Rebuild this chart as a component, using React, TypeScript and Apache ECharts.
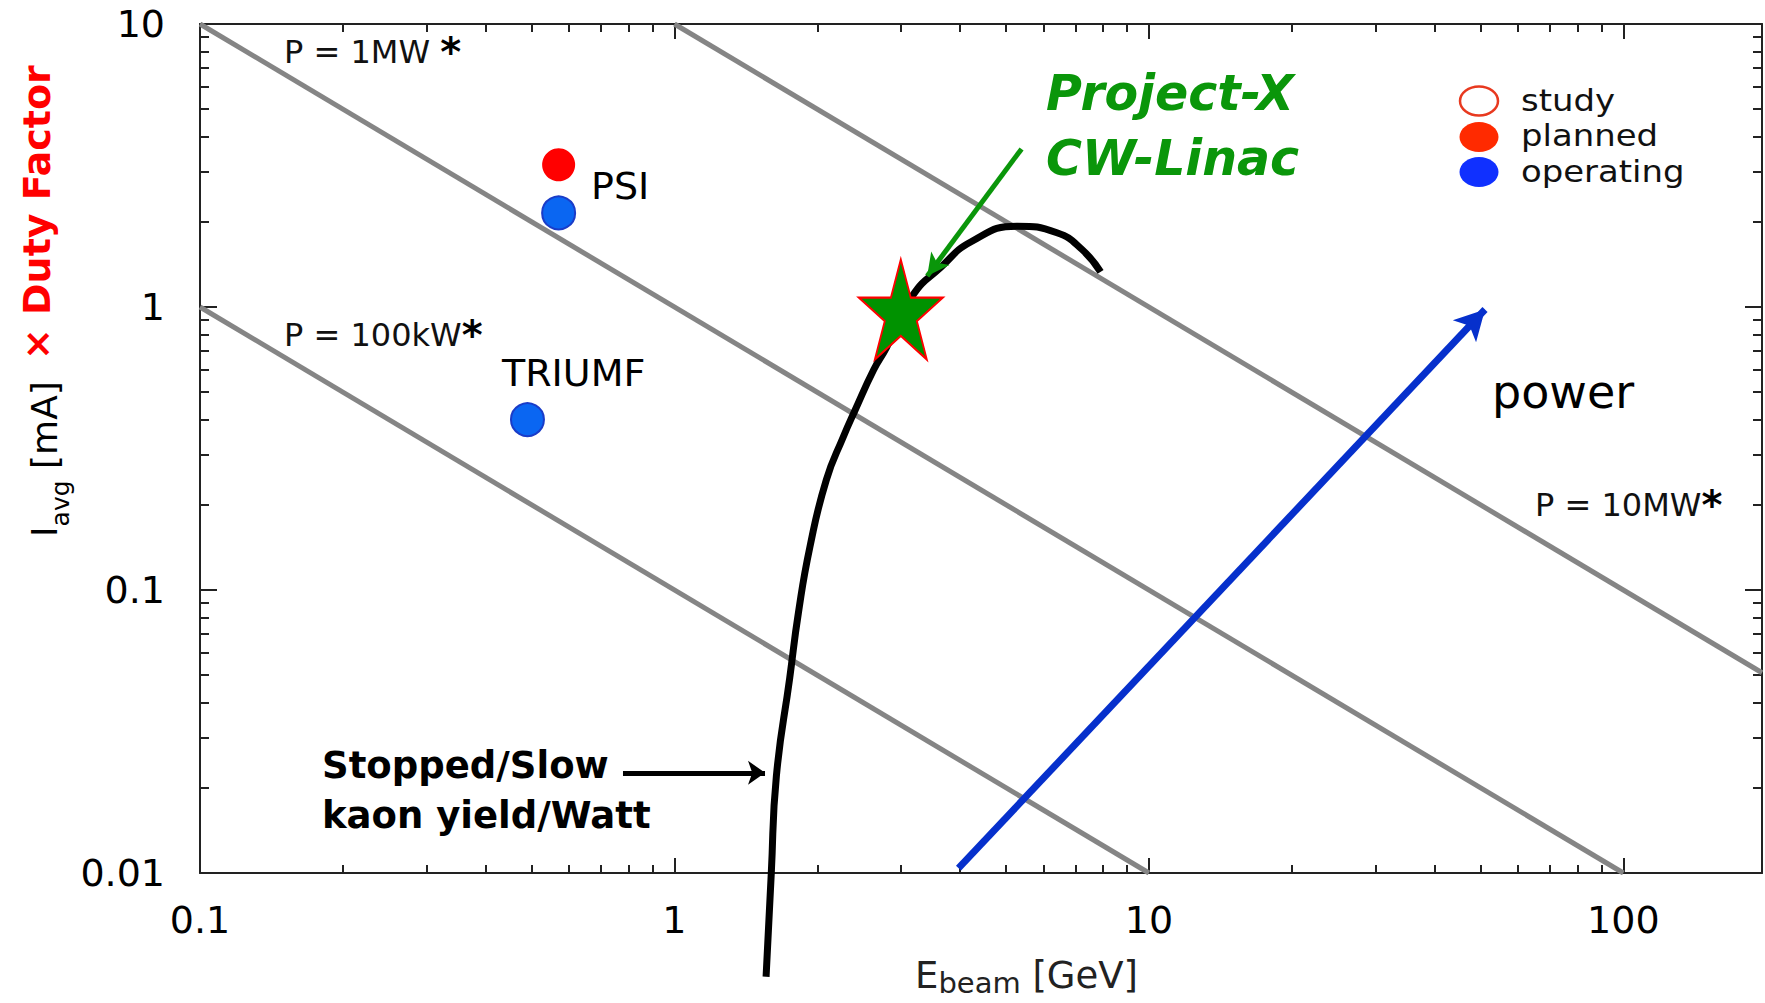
import React, { useEffect, useRef } from 'react';
import * as echarts from 'echarts';

// ---- axis ticks ----
const xTickValues = [0.1, 1, 10, 100];
const xTickLabels = ['0.1', '1', '10', '100'];
const xMinorTicks = [0.2, 0.3, 0.4, 0.5, 0.6, 0.7, 0.8, 0.9, 2, 3, 4, 5, 6, 7, 8, 9, 20, 30, 40, 50, 60, 70, 80, 90];
const yTickValues = [0.01, 0.1, 1, 10];
const yTickLabels = ['0.01', '0.1', '1', '10'];
const yMinorTicks = [0.02, 0.03, 0.04, 0.05, 0.06, 0.07, 0.08, 0.09, 0.2, 0.3, 0.4, 0.5, 0.6, 0.7, 0.8, 0.9, 2, 3, 4, 5, 6, 7, 8, 9];
const X_MIN = 0.1;
const X_MAX = 196;
const Y_MIN = 0.01;
const Y_MAX = 10;

// ---- constant power lines [E GeV, I mA] ----
const power100kW = [[0.1, 1], [10, 0.01]];
const power1MW = [[0.1, 10], [100, 0.01]];
const power10MW = [[1, 10], [196, 0.051]];

// ---- stopped/slow kaon yield per Watt curve ----
const kaonYieldCurve = [
  [1.56, 0.0043], [1.6, 0.01], [1.64, 0.022], [1.75, 0.049], [1.825, 0.083], [1.93, 0.142],
  [2.09, 0.245], [2.27, 0.348], [2.4, 0.43], [2.63, 0.6], [2.8, 0.72], [3.18, 1.1],
  [3.64, 1.38], [4.22, 1.7], [5.27, 1.93], [6.4, 1.83], [7.22, 1.6], [7.91, 1.33],
];

// ---- facilities ----
const plannedPoints = [{ name: 'PSI', value: [0.57, 3.18] }];
const operatingPoints = [
  { name: 'PSI', value: [0.57, 2.15] },
  { name: 'TRIUMF', value: [0.49, 0.4] },
];
const projectXPoint = [{ name: 'Project-X CW-Linac', value: [3.0, 0.98] }];

// ---- arrows [from, tip] ----
const powerArrow = [[3.97, 0.0104], [51.1, 0.98]];
const projectXArrow = [[5.39, 3.62], [3.41, 1.287]];
const kaonArrow = [[0.779, 0.0226], [1.552, 0.0226]];

// ---- legend ----
const legendLabels = ['study', 'planned', 'operating'];

const FONT = '"DejaVu Sans", "Noto Sans", sans-serif';
const STAR = 'path://M50,0L61.8,36.2L100,36.2L69.1,58.6L80.9,95.1L50,72.7L19.1,95.1L30.9,58.6L0,36.2L38.2,36.2Z';

const fmt = (vals: number[], labels: string[]) => (v: number) => {
  const i = vals.findIndex((t) => Math.abs(Math.log10(t) - Math.log10(v)) < 1e-6);
  return i >= 0 ? labels[i] : '';
};

const lineCol = '#222';

function makeXAxis(position: string, ticks: number[], len: number, showLine: boolean, showLabel: boolean) {
  return {
    type: 'log', logBase: 10, min: X_MIN, max: X_MAX, position, gridIndex: 0,
    axisLine: { show: showLine, onZero: false, lineStyle: { color: lineCol, width: 2 } },
    axisTick: { show: true, inside: true, length: len, customValues: ticks, lineStyle: { color: lineCol, width: 2 } },
    axisLabel: {
      show: showLabel, customValues: xTickValues, formatter: fmt(xTickValues, xTickLabels),
      margin: 28, fontSize: 38, fontFamily: FONT, color: '#000',
    },
    splitLine: { show: false }, minorTick: { show: false }, minorSplitLine: { show: false },
  };
}
function makeYAxis(position: string, ticks: number[], len: number, showLine: boolean, showLabel: boolean) {
  return {
    type: 'log', logBase: 10, min: Y_MIN, max: Y_MAX, position, gridIndex: 0,
    axisLine: { show: showLine, onZero: false, lineStyle: { color: lineCol, width: 2 } },
    axisTick: { show: true, inside: true, length: len, customValues: ticks, lineStyle: { color: lineCol, width: 2 } },
    axisLabel: {
      show: showLabel, customValues: yTickValues, formatter: fmt(yTickValues, yTickLabels),
      margin: 35, fontSize: 38, fontFamily: FONT, color: '#000',
    },
    splitLine: { show: false }, minorTick: { show: false }, minorSplitLine: { show: false },
  };
}

const grayLine = (name: string, data: number[][]) => ({
  name, type: 'line', data, symbol: 'none', silent: true, z: 2,
  lineStyle: { color: '#858585', width: 5 },
});

const arrowSeries = (data: number[][], color: string, width: number, head: number[]) => ({
  type: 'scatter', data, symbolSize: 0, silent: true, z: 4, clip: false,
  markLine: {
    silent: true, animation: false, symbol: ['none', 'arrow'], symbolSize: head,
    label: { show: false },
    lineStyle: { color, width, type: 'solid', opacity: 1 },
    emphasis: { disabled: true },
    data: [[{ coord: data[0] }, { coord: data[1] }]],
  },
});

function txt(x: number, y: number, text: string, style: any, extra: any = {}) {
  return {
    type: 'text', x, y, silent: true, ...extra,
    style: { text, fontFamily: FONT, fill: '#000', align: 'left', verticalAlign: 'middle', ...style },
  };
}

export default function App() {
  const ref = useRef<HTMLDivElement>(null);
  useEffect(() => {
    if (!ref.current) return;
    const chart = echarts.init(ref.current, undefined, { renderer: 'svg' });
    const option: any = {
      animation: false,
      backgroundColor: '#fff',
      grid: { left: 200, top: 24, right: 3, bottom: 130, containLabel: false, outerBoundsMode: 'none' },
      xAxis: [
        makeXAxis('bottom', xTickValues, 15, true, true),
        makeXAxis('bottom', xMinorTicks, 8, false, false),
        makeXAxis('top', xTickValues, 15, true, false),
        makeXAxis('top', xMinorTicks, 8, false, false),
      ],
      yAxis: [
        makeYAxis('left', yTickValues, 17, true, true),
        makeYAxis('left', yMinorTicks, 9, false, false),
        makeYAxis('right', yTickValues, 17, true, false),
        makeYAxis('right', yMinorTicks, 9, false, false),
      ],
      series: [
        grayLine('P = 100kW', power100kW),
        grayLine('P = 1MW', power1MW),
        grayLine('P = 10MW', power10MW),
        {
          name: 'Stopped/Slow kaon yield/Watt', type: 'line', data: kaonYieldCurve, smooth: 0.5,
          symbol: 'none', clip: false, silent: true, z: 3,
          lineStyle: { color: '#000', width: 7, cap: 'butt' },
        },
        arrowSeries(powerArrow, '#0630cc', 7, [24, 30]),
        arrowSeries(projectXArrow, '#0a960a', 5, [17, 22]),
        arrowSeries(kaonArrow, '#000', 5, [18, 17]),
        {
          name: 'planned', type: 'scatter', data: plannedPoints, symbolSize: 33, z: 4, silent: true,
          itemStyle: { color: '#ff0000', opacity: 1 },
        },
        {
          name: 'operating', type: 'scatter', data: operatingPoints, symbolSize: 33, z: 4, silent: true,
          itemStyle: { color: '#0a66f2', borderColor: '#1a3cc8', borderWidth: 2, opacity: 1 },
        },
        {
          name: 'Project-X', type: 'scatter', data: projectXPoint, symbol: STAR, symbolSize: [84, 100],
          z: 6, silent: true, clip: false,
          itemStyle: { color: '#009200', borderColor: '#ff0000', borderWidth: 2, opacity: 1 },
        },
      ],
      graphic: [
        // y-axis title
        txt(44, 537, '{m|I}{s|avg}{m| [mA]}', {
          rich: {
            m: { fontSize: 36, fontFamily: FONT, fill: '#000', lineHeight: 58 },
            s: { fontSize: 25, fontFamily: FONT, fill: '#000', lineHeight: 20, verticalAlign: 'bottom' },
          },
        }, { rotation: Math.PI / 2 }),
        txt(37, 360, '× Duty Factor', { fontSize: 38, fontWeight: 'bold', fill: '#ff0000' }, { rotation: Math.PI / 2 }),
        // x-axis title
        txt(915, 975, '{m|E}{s|beam}{m| [GeV]}', {
          rich: {
            m: { fontSize: 37, fontFamily: FONT, fill: '#222', lineHeight: 44 },
            s: { fontSize: 29, fontFamily: FONT, fill: '#222', lineHeight: 18, verticalAlign: 'bottom' },
          },
        }),
        // power labels
        txt(284, 52, '{t|P = 1MW }{a|*}', {
          rich: { t: { fontSize: 32, fontFamily: FONT, fill: '#111' }, a: { fontSize: 40, fontWeight: 'bold', fontFamily: FONT, fill: '#000' } },
        }),
        txt(284, 335, '{t|P = 100kW}{a|*}', {
          rich: { t: { fontSize: 32, fontFamily: FONT, fill: '#111' }, a: { fontSize: 40, fontWeight: 'bold', fontFamily: FONT, fill: '#000' } },
        }),
        txt(1535, 505, '{t|P = 10MW}{a|*}', {
          rich: { t: { fontSize: 32, fontFamily: FONT, fill: '#111' }, a: { fontSize: 40, fontWeight: 'bold', fontFamily: FONT, fill: '#000' } },
        }),
        // facility labels
        txt(591, 186, 'PSI', { fontSize: 38 }),
        txt(502, 373, 'TRIUMF', { fontSize: 38 }),
        txt(1492, 392, 'power', { fontSize: 46 }),
        txt(1046, 126, 'Project-X\nCW-Linac', { fontSize: 49, lineHeight: 65, fontWeight: 'bold', fontStyle: 'italic', fill: '#0a960a' }),
        txt(322, 790, 'Stopped/Slow\nkaon yield/Watt', { fontSize: 37, lineHeight: 50, fontWeight: 'bold' }),
        // legend
        { type: 'ellipse', silent: true, shape: { cx: 1479, cy: 101, rx: 19, ry: 14.5 }, style: { fill: '#fff', stroke: '#e8391f', lineWidth: 2.5 } },
        { type: 'ellipse', silent: true, shape: { cx: 1479, cy: 137, rx: 19.5, ry: 15 }, style: { fill: '#ff2a00' } },
        { type: 'ellipse', silent: true, shape: { cx: 1479, cy: 172, rx: 19.5, ry: 15 }, style: { fill: '#1030ff' } },
        txt(1521, 136, legendLabels.join('\n'), { fontSize: 30, lineHeight: 35.5, fill: '#111' }, { scaleX: 1.13 }),
      ],
    };
    chart.setOption(option);
    return () => chart.dispose();
  }, []);
  return <div ref={ref} style={{ position: 'absolute', left: 0, top: 0, width: 1765, height: 1003 }} />;
}
